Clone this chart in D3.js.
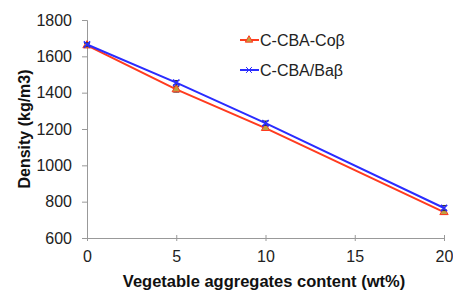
<!DOCTYPE html>
<html>
<head>
<meta charset="utf-8">
<script src="https://cdn.jsdelivr.net/npm/d3@7"></script>
<style>
  body { margin: 0; background: #fff; }
  text { font-family: "Liberation Sans", Arial, sans-serif; }
</style>
</head>
<body>
<script>
var content = [0, 5, 10, 20]
var coValues = [1660, 1418, 1205, 742]
var coErr = [12, 15, 12, 12]
var baValues = [1665, 1455, 1232, 765]
var baErr = [10, 12, 12, 14]
var seriesNames = ['C-CBA-Coβ', 'C-CBA/Baβ']
var xTicks = [0, 5, 10, 15, 20]
var yTicks = [600, 800, 1000, 1200, 1400, 1600, 1800]

var w = 453
var h = 290
var padL = 87, padR = 444, padT = 20, padB = 238

var svg = d3.select('body') // the canvas
  .append('svg')
  .attr('width', w)
  .attr('height', h)

var x = d3.scaleLinear().domain([0, 20]).range([padL, padR])
var y = d3.scaleLinear().domain([600, 1800]).range([padB, padT])

// y axis
var yAxis = svg.append('g')
  .attr('transform', 'translate(' + padL + ',0)')
  .call(d3.axisLeft(y).tickValues(yTicks).tickFormat(d3.format('d')).tickSize(5).tickPadding(10))
yAxis.select('.domain').attr('stroke', '#999')
yAxis.selectAll('.tick line').attr('stroke', '#999')
yAxis.selectAll('.tick text').attr('font-size', '16px').attr('fill', '#222')

// x axis
var xAxis = svg.append('g')
  .attr('transform', 'translate(0,' + padB + ')')
  .call(d3.axisBottom(x).tickValues(xTicks).tickSize(3).tickPadding(10))
xAxis.select('.domain').attr('stroke', '#999')
xAxis.selectAll('.tick line').attr('stroke', '#999').attr('y1', -3)
xAxis.selectAll('.tick text').attr('font-size', '16px').attr('fill', '#222')

// axis titles
svg.append('text')
  .text('Density (kg/m3)')
  .attr('transform', 'translate(30,' + ((padT + padB) / 2) + ') rotate(-90)')
  .attr('text-anchor', 'middle')
  .attr('font-size', '16px')
  .attr('font-weight', 'bold')
  .attr('fill', '#111')

svg.append('text')
  .text('Vegetable aggregates content (wt%)')
  .attr('x', 264)
  .attr('y', 287)
  .attr('text-anchor', 'middle')
  .attr('font-size', '16.5px')
  .attr('font-weight', 'bold')
  .attr('fill', '#111')

var series = [
  { name: seriesNames[0], values: coValues, err: coErr, color: '#ff3b1f' },
  { name: seriesNames[1], values: baValues, err: baErr, color: '#2a2cff' }
]

var line = d3.line()
  .x(function(d){ return x(d.x) })
  .y(function(d){ return y(d.y) })

series.forEach(function(s, si){
  var pts = content.map(function(c, i){ return { x: c, y: s.values[i], e: s.err[i] } })
  svg.append('path')
    .datum(pts)
    .attr('d', line)
    .attr('fill', 'none')
    .attr('stroke', s.color)
    .attr('stroke-width', 2)

  // error bars
  var eb = svg.append('g')
  pts.forEach(function(p){
    eb.append('line')
      .attr('x1', x(p.x)).attr('x2', x(p.x))
      .attr('y1', y(p.y - p.e)).attr('y2', y(p.y + p.e))
      .attr('stroke', '#333').attr('stroke-width', 1)
    ;[p.y - p.e, p.y + p.e].forEach(function(v){
      eb.append('line')
        .attr('x1', x(p.x) - 3).attr('x2', x(p.x) + 3)
        .attr('y1', y(v)).attr('y2', y(v))
        .attr('stroke', '#333').attr('stroke-width', 1)
    })
  })

  // markers
  var sym = si === 0 ? d3.symbolTriangle : d3.symbolX
  svg.selectAll('.m' + si)
    .data(pts)
    .enter()
    .append('path')
    .attr('transform', function(d){ return 'translate(' + x(d.x) + ',' + y(d.y) + ')' })
    .attr('d', d3.symbol().type(sym).size(si === 0 ? 30 : 28))
    .attr('fill', si === 0 ? '#c0a040' : 'none')
    .attr('stroke', s.color)
    .attr('stroke-width', si === 0 ? 1 : 1.5)
})

// legend
var legend = svg.append('g')
series.forEach(function(s, si){
  var ly = 40 + si * 30
  legend.append('line')
    .attr('x1', 240).attr('x2', 259)
    .attr('y1', ly).attr('y2', ly)
    .attr('stroke', s.color).attr('stroke-width', 2)
  legend.append('path')
    .attr('transform', 'translate(249,' + ly + ')')
    .attr('d', d3.symbol().type(si === 0 ? d3.symbolTriangle : d3.symbolX).size(24))
    .attr('fill', si === 0 ? '#c0a040' : 'none')
    .attr('stroke', s.color)
    .attr('stroke-width', 1)
  legend.append('text')
    .text(s.name)
    .attr('x', 260)
    .attr('y', ly + 6)
    .attr('font-size', '16px')
    .attr('fill', '#222')
})
</script>
</body>
</html>
